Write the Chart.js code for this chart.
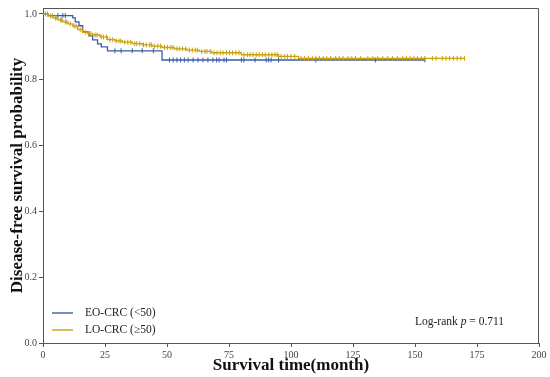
<!DOCTYPE html>
<html>
<head>
<meta charset="utf-8">
<script src="https://cdn.jsdelivr.net/npm/chart.js@4"></script>
<style>
  body { margin: 0; background: #fff; }
  canvas { display: block; }
</style>
</head>
<body>
<canvas id="kmChart" width="550" height="377"></canvas>
<script>
// Kaplan-Meier step points (month, survival)
const eoTimes = [0, 2, 12, 13, 14.5, 16, 18.5, 20, 22, 23.5, 26, 48, 154];
const eoSurv = [1.0, 0.995, 0.988, 0.976, 0.964, 0.945, 0.933, 0.921, 0.909, 0.9, 0.888, 0.86, 0.86];
const eoCensor = [6, 8, 9, 29, 31.5, 36, 40, 44.5, 51, 52.5, 54, 55.5, 57, 58.5, 60.5, 62.5, 64.5, 66.5, 68.5, 70, 71, 73, 74, 80, 81, 85.5, 90, 91, 92, 95, 110, 134, 154];

const loTimes = [0, 2, 4, 6, 8, 10, 12, 14, 16, 18, 20, 23, 26, 29, 32, 36, 40, 44, 48, 53, 58, 63, 68, 80, 95, 103, 170];
const loSurv = [1.0, 0.994, 0.988, 0.982, 0.976, 0.97, 0.963, 0.952, 0.944, 0.94, 0.936, 0.93, 0.922, 0.918, 0.914, 0.91, 0.906, 0.902, 0.898, 0.894, 0.89, 0.886, 0.882, 0.876, 0.871, 0.865, 0.865];
const loCensor = [1, 1.8, 3, 3.7, 5, 5.6, 7, 7.5, 9, 9.6, 11, 12.5, 13.3, 15, 15.8, 17, 18.4, 19.3, 21, 21.8, 23.5, 24.4, 25.6, 27, 28.1, 29.5, 30.6, 31.4, 33, 34.2, 35.4, 37, 37.8, 39, 40.5, 41.6, 43, 43.7, 45, 46.3, 47.4, 49, 50.2, 51.5, 52.4, 54, 55.1, 56.3, 57.5, 59, 60.2, 61.4, 62.2, 64, 65.3, 66.1, 67.4, 69, 70.2, 71.5, 72.6, 74, 75.2, 76.4, 77.8, 79, 81, 82.4, 83.5, 84.7, 86, 87.2, 88.5, 89.6, 91, 92.3, 93.5, 94.4, 96, 97.5, 98.6, 100, 101.5, 104, 105.5, 107, 108.6, 110, 111.5, 113, 114.4, 116, 118, 119.5, 121, 123, 124.5, 126, 128, 131, 133, 135, 137, 139, 141, 143, 145, 146.5, 148, 149.5, 151, 152.5, 154, 157, 158.5, 161, 162.5, 164, 165.5, 167, 168.5, 170];

const xTicks = [0, 25, 50, 75, 100, 125, 150, 175, 200];

const eoColor = '#3a5ca8';
const loColor = '#c9a010';

function toPoints(times, surv) {
  return times.map((t, i) => ({ x: t, y: surv[i] }));
}

// survival value at a censor time, read from the step data
function censorPoints(cens, times, surv) {
  return cens.map(t => {
    let s = surv[0];
    for (let i = 0; i < times.length; i++) {
      if (times[i] <= t) s = surv[i];
    }
    return { x: t, y: s };
  });
}

const frameAndNotes = {
  id: 'frameAndNotes',
  afterDraw(chart) {
    const { ctx, chartArea: a } = chart;
    ctx.save();
    ctx.strokeStyle = '#555';
    ctx.lineWidth = 1;
    ctx.beginPath();
    ctx.moveTo(a.left, a.top + 0.5);
    ctx.lineTo(a.right - 0.5, a.top + 0.5);
    ctx.lineTo(a.right - 0.5, a.bottom);
    ctx.stroke();

    // legend
    const items = chart.data.datasets.filter(d => d.legend);
    items.sort((p, q) => p.legend - q.legend);
    ctx.font = '11.5px "Liberation Serif"';
    ctx.textBaseline = 'middle';
    items.forEach((d, i) => {
      const y = 313 + i * 17;
      ctx.strokeStyle = d.borderColor;
      ctx.lineWidth = 1.4;
      ctx.beginPath();
      ctx.moveTo(52, y);
      ctx.lineTo(73, y);
      ctx.stroke();
      ctx.fillStyle = '#222';
      ctx.fillText(d.label, 85, y);
    });

    // log-rank annotation
    let x = 415;
    const y = 322;
    ctx.fillStyle = '#222';
    const parts = [['Log-rank ', ''], ['p', 'italic '], [' = 0.711', '']];
    parts.forEach(([txt, st]) => {
      ctx.font = st + '11.5px "Liberation Serif"';
      ctx.fillText(txt, x, y);
      x += ctx.measureText(txt).width;
    });
    ctx.restore();
  }
};

new Chart(document.getElementById('kmChart').getContext('2d'), {
  type: 'line',
  data: {
    datasets: [
      {
        label: 'LO-CRC (≥50)',
        legend: 2,
        data: toPoints(loTimes, loSurv),
        borderColor: loColor,
        borderWidth: 1.3,
        stepped: true,
        pointRadius: 0,
        fill: false
      },
      {
        label: 'lo censor',
        data: censorPoints(loCensor, loTimes, loSurv),
        showLine: false,
        pointStyle: 'line',
        rotation: 90,
        pointRadius: 2.5,
        borderColor: loColor,
        borderWidth: 1
      },
      {
        label: 'EO-CRC (<50)',
        legend: 1,
        data: toPoints(eoTimes, eoSurv),
        borderColor: eoColor,
        borderWidth: 1.3,
        stepped: true,
        pointRadius: 0,
        fill: false
      },
      {
        label: 'eo censor',
        data: censorPoints(eoCensor, eoTimes, eoSurv),
        showLine: false,
        pointStyle: 'line',
        rotation: 90,
        pointRadius: 2.5,
        borderColor: eoColor,
        borderWidth: 1
      }
    ]
  },
  options: {
    responsive: false,
    animation: false,
    layout: { padding: { top: 8, right: 11, left: 0, bottom: 0 } },
    plugins: {
      legend: { display: false },
      tooltip: { enabled: false }
    },
    scales: {
      x: {
        type: 'linear',
        min: 0,
        max: 200,
        afterFit(s) { s.height = 34; },
        afterBuildTicks(s) { s.ticks = xTicks.map(v => ({ value: v })); },
        ticks: {
          padding: 2,
          color: '#444',
          font: { family: 'Liberation Serif', size: 10 },
          maxRotation: 0
        },
        grid: { drawOnChartArea: false, tickLength: 4, color: '#555' },
        border: { color: '#555', width: 1 },
        title: {
          display: true,
          text: 'Survival time(month)',
          color: '#111',
          padding: { top: 0, bottom: 1 },
          font: { family: 'Liberation Serif', size: 17, weight: 'bold' }
        }
      },
      y: {
        min: 0,
        max: 1.018,
        afterFit(s) { s.width = 43; },
        ticks: {
          stepSize: 0.2,
          includeBounds: false,
          padding: 2,
          color: '#444',
          font: { family: 'Liberation Serif', size: 10 },
          callback: v => v.toFixed(1)
        },
        grid: { drawOnChartArea: false, tickLength: 4, color: '#555' },
        border: { color: '#555', width: 1 },
        title: {
          display: true,
          text: 'Disease-free survival probability',
          color: '#111',
          padding: { top: 7, bottom: 0 },
          font: { family: 'Liberation Serif', size: 17, weight: 'bold' }
        }
      }
    }
  },
  plugins: [frameAndNotes]
});
</script>
</body>
</html>
